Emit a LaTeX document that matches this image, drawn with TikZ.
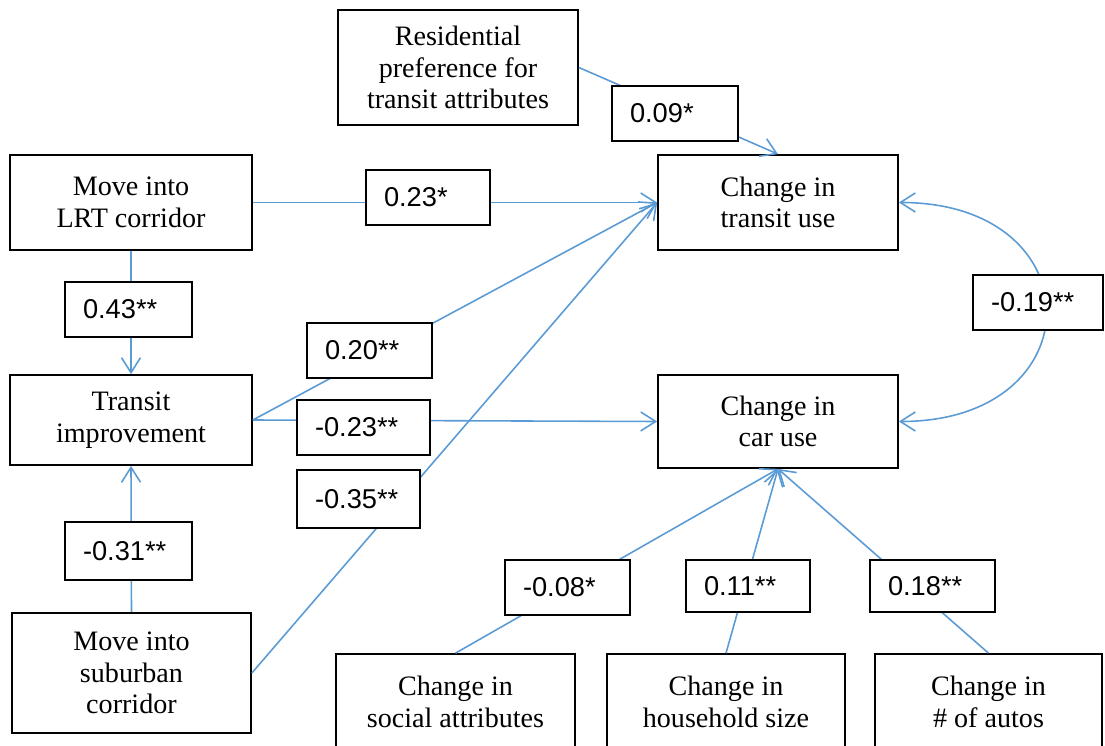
\documentclass[tikz,border=0pt]{standalone}
\usepackage{fontspec}
\setmainfont{Liberation Serif}
\newfontfamily\coeffont{Liberation Sans}
\usetikzlibrary{arrows.meta}
\definecolor{pathblue}{RGB}{91,155,213}

\begin{document}
\begin{tikzpicture}[x=0.02cm,y=-0.02cm,
  barb/.tip={Straight Barb[length=3mm,width=3.8mm]},
  var/.style={draw,line width=1pt,align=center,inner sep=0pt,
    font=\fontsize{16}{18}\selectfont},
  coef/.style={draw,fill=white,line width=1pt,align=left,text width=#1,
    inner xsep=0.36cm,inner ysep=0pt,minimum height=1.1cm,
    font=\coeffont\fontsize{15.5}{18}\selectfont},
  effect/.style={pathblue,line width=0.9pt,-barb}]
\useasboundingbox (0,0) rectangle (1105,746);

% Variables.
\node[var,minimum width=4.8cm,minimum height=2.3cm] (res) at (458,67.5)
  {Residential\\preference for\\transit attributes};
\node[var,minimum width=4.8cm,minimum height=1.9cm] (tu) at (778,202.5)
  {Change in\\transit use};
\node[var,minimum width=4.84cm,minimum height=1.9cm] (lrt) at (131,202.5)
  {Move into\\LRT corridor};
\node[var,minimum width=4.84cm,minimum height=1.8cm] (ti) at (131,420)
  {Transit\\improvement};
\node[var,minimum width=4.8cm,minimum height=1.86cm] (cu) at (778,421.5)
  {Change in\\car use};
\node[var,minimum width=4.78cm,minimum height=2.4cm] (sub) at (131.5,673)
  {Move into\\suburban\\corridor};
\node[var,minimum width=4.78cm,minimum height=1.92cm] (soc) at (455.5,702)
  {Change in\\social attributes};
\node[var,minimum width=4.76cm,minimum height=1.92cm] (hh) at (726,702)
  {Change in\\household size};
\node[var,minimum width=4.54cm,minimum height=1.92cm] (aut) at (988.5,702)
  {Change in\\\# of autos};

% Paths.
\draw[effect] (res.east) -- (tu.north);
\draw[effect] (lrt.east) -- (tu.west);
\draw[effect] (ti.east) -- (tu.west);
\draw[effect] (sub.east) -- (tu.west);
\draw[effect] (ti.east) -- (cu.west);
\draw[effect] (lrt.south) -- (ti.north);
\draw[effect] (sub.north) -- (ti.south);
\draw[effect,barb-barb] (tu.east) to[out=0,in=0,looseness=2.3] (cu.east);
\draw[effect] (soc.north) -- (cu.south);
\draw[effect] (hh.north) -- (cu.south);
\draw[effect] (aut.north) -- (cu.south);

% Path coefficients.
\node[coef=1.8cm] (c09) at (675,113.5) {0.09*};
\node[coef=1.76cm] (c23) at (428,197.5) {0.23*};
\node[coef=1.82cm] (c43) at (128.5,309.5) {0.43**};
\node[coef=1.78cm] (c20) at (369.5,350.5) {0.20**};
\node[coef=1.94cm] (cm23) at (363.5,427.5) {-0.23**};
\node[coef=1.74cm,minimum height=1.16cm] (cm35) at (358.5,499) {-0.35**};
\node[coef=1.88cm] (cm19) at (1038,302.5) {-0.19**};
\node[coef=1.82cm,minimum height=1.16cm] (cm31) at (128.5,551) {-0.31**};
\node[coef=1.78cm] (cm08) at (567.5,587.5) {-0.08*};
\node[coef=1.76cm,minimum height=1.04cm] (c11) at (748,586) {0.11**};
\node[coef=1.78cm,minimum height=1.04cm] (c18) at (932.5,586) {0.18**};
\end{tikzpicture}
\end{document}
